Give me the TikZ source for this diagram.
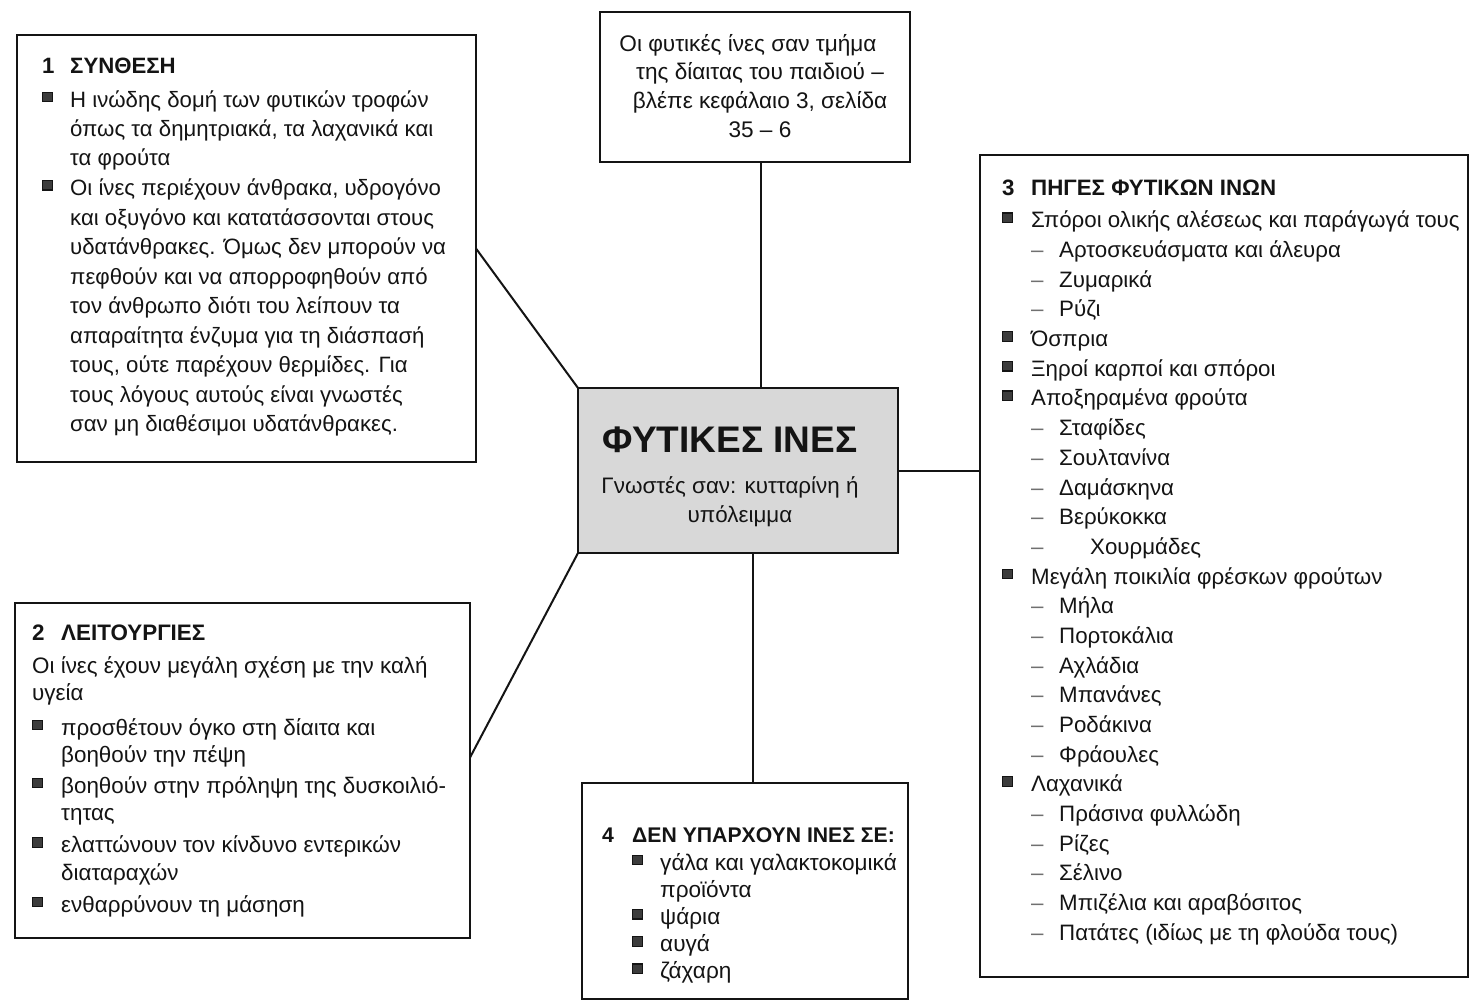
\documentclass[tikz,border=0pt]{standalone}
\usepackage{fontspec}
\setmainfont{Liberation Sans}
\usepackage{array}
\usetikzlibrary{calc}

\definecolor{ink}{HTML}{141414}
\definecolor{panelgrey}{HTML}{D8D8D8}
\definecolor{bulfill}{HTML}{3C3C3C}
\definecolor{dashgrey}{HTML}{707070}

% square bullet and grey dash used in the lists
\newcommand\sqbul{\raisebox{6pt}{\setlength\fboxsep{0pt}\setlength\fboxrule{1.2pt}\fcolorbox{ink}{bulfill}{\rule{0pt}{8.3pt}\hspace{8.3pt}}}}
\newcommand\dsh{\textcolor{dashgrey}{–}}
\setlength\tabcolsep{0pt}

\tikzset{
  panel/.style={draw=ink, line width=2.4pt, fill=white, inner sep=0pt, outer sep=0pt, anchor=north west},
  link/.style={draw=ink, line width=2pt},
  txt/.style={anchor=base west, inner sep=0pt, text=ink},
  ctxt/.style={anchor=base, inner sep=0pt, text=ink},
}

\begin{document}
\begin{tikzpicture}[x=1pt,y=-1pt]
\fill[white] (0,0) rectangle (1470,1001);
\useasboundingbox (0,0) rectangle (1470,1001);

% frames
\node[panel, minimum width=459pt, minimum height=427pt] (b1) at (17,35) {};
\node[panel, minimum width=310pt, minimum height=150pt] (tb) at (600,12) {};
\node[panel, fill=panelgrey, minimum width=320pt, minimum height=165pt] (c) at (578,388) {};
\node[panel, minimum width=488pt, minimum height=822pt] (r) at (980,155) {};
\node[panel, minimum width=455pt, minimum height=335pt] (b2) at (15,603) {};
\node[panel, minimum width=326pt, minimum height=216pt] (b4) at (582,783) {};

% connectors to the central panel
\draw[link] (b1.east) -- (c.north west);
\draw[link] ([yshift=13pt]b2.east) -- (c.south west);
\draw[link] ([xshift=6pt]tb.south) -- ([xshift=6pt]tb.south |- c.north);
\draw[link] (c.east) -- (c.east -| r.west);
\draw[link] ([xshift=15pt]c.south) -- ([xshift=15pt]c.south |- b4.north);

% central panel
\node[ctxt, font=\fontsize{37}{40}\selectfont\bfseries] (title) at (730,452) {ΦΥΤΙΚΕΣ ΙΝΕΣ};
\node[ctxt, font=\fontsize{22.4}{29}\selectfont] (sub) at (730,493)
 {\begin{tabular}[t]{@{}c@{}}Γνωστές σαν: κυτταρίνη ή\\ \hspace*{20pt}υπόλειμμα\end{tabular}};

% top panel
\node[ctxt, font=\fontsize{22.6}{28.8}\selectfont] (note) at (760,51)
 {\begin{tabular}[t]{@{}c@{}}
 Οι φυτικές ίνες σαν τμήμα\hspace*{24pt}\\
 της δίαιτας του παιδιού –\\
 βλέπε κεφάλαιο 3, σελίδα\\
 35 – 6
 \end{tabular}};

% 1 composition
\node[txt, font=\fontsize{22.2}{29.5}\selectfont] (t1) at (42,73)
 {\begin{tabular}[t]{@{}p{28pt}@{}l@{}}
 \textbf{1} & \textbf{ΣΥΝΘΕΣΗ}\\[4.5pt]
 \sqbul & Η ινώδης δομή των φυτικών τροφών\\
 & όπως τα δημητριακά, τα λαχανικά και\\
 & τα φρούτα\\
 \sqbul & Οι ίνες περιέχουν άνθρακα, υδρογόνο\\
 & και οξυγόνο και κατατάσσονται στους\\
 & υδατάνθρακες. Όμως δεν μπορούν να\\
 & πεφθούν και να απορροφηθούν από\\
 & τον άνθρωπο διότι του λείπουν τα\\
 & απαραίτητα ένζυμα για τη διάσπασή\\
 & τους, ούτε παρέχουν θερμίδες. Για\\
 & τους λόγους αυτούς είναι γνωστές\\
 & σαν μη διαθέσιμοι υδατάνθρακες.
 \end{tabular}};

% 2 functions
\node[txt, font=\fontsize{22.4}{27.5}\selectfont] (t2) at (32,640)
 {\begin{tabular}[t]{@{}p{29pt}@{}l@{}}
 \textbf{2} & \textbf{ΛΕΙΤΟΥΡΓΙΕΣ}\\[5.5pt]
 \multicolumn{2}{@{}l@{}}{Οι ίνες έχουν μεγάλη σχέση με την καλή}\\
 \multicolumn{2}{@{}l@{}}{υγεία}\\[7pt]
 \sqbul & προσθέτουν όγκο στη δίαιτα και\\
 & βοηθούν την πέψη\\[3pt]
 \sqbul & βοηθούν στην πρόληψη της δυσκοιλιό-\\
 & τητας\\[4.5pt]
 \sqbul & ελαττώνουν τον κίνδυνο εντερικών\\
 & διαταραχών\\[4.5pt]
 \sqbul & ενθαρρύνουν τη μάσηση
 \end{tabular}};

% 3 sources
\node[txt, font=\fontsize{22.3}{29.67}\selectfont] (t3) at (1002,195)
 {\begin{tabular}[t]{@{}p{29pt}@{}p{28pt}@{}l@{}}
 \textbf{3} & \multicolumn{2}{@{}l@{}}{\textbf{ΠΗΓΕΣ ΦΥΤΙΚΩΝ ΙΝΩΝ}}\\[3.3pt]
 \sqbul & \multicolumn{2}{@{}l@{}}{Σπόροι ολικής αλέσεως και παράγωγά τους}\\
 & \dsh & Αρτοσκευάσματα και άλευρα\\
 & \dsh & Ζυμαρικά\\
 & \dsh & Ρύζι\\
 \sqbul & \multicolumn{2}{@{}l@{}}{Όσπρια}\\
 \sqbul & \multicolumn{2}{@{}l@{}}{Ξηροί καρποί και σπόροι}\\
 \sqbul & \multicolumn{2}{@{}l@{}}{Αποξηραμένα φρούτα}\\
 & \dsh & Σταφίδες\\
 & \dsh & Σουλτανίνα\\
 & \dsh & Δαμάσκηνα\\
 & \dsh & Βερύκοκκα\\
 & \dsh & \hspace*{31pt}Χουρμάδες\\
 \sqbul & \multicolumn{2}{@{}l@{}}{Μεγάλη ποικιλία φρέσκων φρούτων}\\
 & \dsh & Μήλα\\
 & \dsh & Πορτοκάλια\\
 & \dsh & Αχλάδια\\
 & \dsh & Μπανάνες\\
 & \dsh & Ροδάκινα\\
 & \dsh & Φράουλες\\
 \sqbul & \multicolumn{2}{@{}l@{}}{Λαχανικά}\\
 & \dsh & Πράσινα φυλλώδη\\
 & \dsh & Ρίζες\\
 & \dsh & Σέλινο\\
 & \dsh & Μπιζέλια και αραβόσιτος\\
 & \dsh & Πατάτες (ιδίως με τη φλούδα τους)
 \end{tabular}};

% 4 no fibre in
\node[txt, font=\fontsize{22.6}{27.2}\selectfont] (t4) at (602,842)
 {\begin{tabular}[t]{@{}p{30pt}@{}p{28pt}@{}l@{}}
 \textbf{\fontsize{21.2}{27.2}\selectfont 4} & \multicolumn{2}{@{}l@{}}{\textbf{\fontsize{21.2}{27.2}\selectfont ΔΕΝ ΥΠΑΡΧΟΥΝ ΙΝΕΣ ΣΕ:}}\\[0.8pt]
 & \sqbul & γάλα και γαλακτοκομικά\\
 & & προϊόντα\\
 & \sqbul & ψάρια\\
 & \sqbul & αυγά\\
 & \sqbul & ζάχαρη
 \end{tabular}};
\end{tikzpicture}
\end{document}
